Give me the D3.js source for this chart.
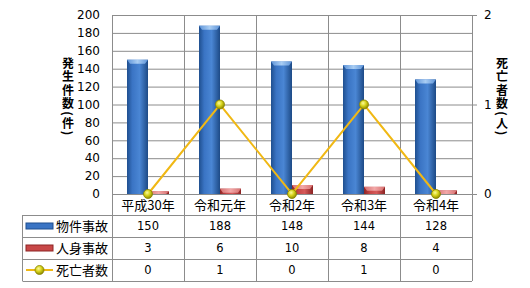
<!DOCTYPE html>
<html>
<head>
<meta charset="utf-8">
<script src="https://cdn.jsdelivr.net/npm/d3@7"></script>
<style>
  body { margin: 0; background: #fff; }
  text { font-family: "DejaVu Sans", sans-serif; }
  .jp { font-family: "Noto Sans CJK JP", sans-serif; }
</style>
</head>
<body>
<svg id="chart" width="530" height="288"></svg>
<script>
  // data
  var years = ['平成30年', '令和元年', '令和2年', '令和3年', '令和4年'];
  var bukken = [150, 188, 148, 144, 128];   // 物件事故
  var jinshin = [3, 6, 10, 8, 4];           // 人身事故
  var deaths = [0, 1, 0, 1, 0];             // 死亡者数
  var leftTicks = [0, 20, 40, 60, 80, 100, 120, 140, 160, 180, 200];
  var rightTicks = [0, 1, 2];
  var seriesNames = ['物件事故', '人身事故', '死亡者数'];
  var leftTitle = '発生件数(件)';
  var rightTitle = '死亡者数(人)';

  var svg = d3.select('#chart'),
      margin = {top: 15, left: 112, right: 58, bottom: 94},
      width = 530 - margin.left - margin.right,
      height = 288 - margin.top - margin.bottom,
      g = svg.append('g').attr('transform', 'translate(' + margin.left + ',' + margin.top + ')');

  var x = d3.scaleBand().domain(years).range([0, width]);
  var y = d3.scaleLinear().domain([0, 200]).range([height, 0]);
  var y2 = d3.scaleLinear().domain([0, 2]).range([height, 0]);
  var barW = 21;
  var grid = '#8c8c8c';

  // gradients for the bevelled bars
  var defs = svg.append('defs');
  function barGrad(id, stops) {
    var gr = defs.append('linearGradient').attr('id', id)
      .attr('x1', 0).attr('x2', 1).attr('y1', 0).attr('y2', 0);
    stops.forEach(function (s) {
      gr.append('stop').attr('offset', s[0]).attr('stop-color', s[1]);
    });
  }
  barGrad('blue', [[0, '#1f4f8f'], [0.25, '#3a74c4'], [0.6, '#4a86d4'], [1, '#1d4a86']]);
  barGrad('red', [[0, '#8e2424'], [0.3, '#c84848'], [0.6, '#d65a5a'], [1, '#8a2222']]);
  barGrad('blueTop', [[0, '#5d93d8'], [0.5, '#a9cdf3'], [1, '#5d93d8']]);
  barGrad('redTop', [[0, '#d77070'], [0.5, '#f2a8a8'], [1, '#d77070']]);
  var mk = defs.append('radialGradient').attr('id', 'marker')
    .attr('cx', 0.4).attr('cy', 0.35).attr('r', 0.65);
  mk.append('stop').attr('offset', 0).attr('stop-color', '#fbfb9a');
  mk.append('stop').attr('offset', 0.5).attr('stop-color', '#d6d21a');
  mk.append('stop').attr('offset', 1).attr('stop-color', '#8c8a00');

  // horizontal grid
  g.selectAll('.hgrid')
      .data(leftTicks)
    .enter().append('line')
      .attr('x1', 0).attr('x2', width)
      .attr('y1', function (d) { return y(d) + 0.5; })
      .attr('y2', function (d) { return y(d) + 0.5; })
      .attr('stroke', grid);

  // vertical grid, running through the table
  var tableTop = height;
  var rowH = 22;
  var headH = 21;
  var tableBottom = height + headH + rowH * 3;
  var vx = years.map(function (d) { return x(d); }).concat([width]);
  g.selectAll('.vgrid')
      .data(vx)
    .enter().append('line')
      .attr('x1', function (d) { return Math.round(d) + 0.5; })
      .attr('x2', function (d) { return Math.round(d) + 0.5; })
      .attr('y1', 0).attr('y2', tableBottom)
      .attr('stroke', grid);

  // right axis tick marks
  g.selectAll('.rtick')
      .data(rightTicks)
    .enter().append('line')
      .attr('x1', width).attr('x2', width + 5)
      .attr('y1', function (d) { return y2(d) + 0.5; })
      .attr('y2', function (d) { return y2(d) + 0.5; })
      .attr('stroke', grid);

  // left axis labels
  g.selectAll('.ylab')
      .data(leftTicks)
    .enter().append('text')
      .attr('x', -12).attr('y', function (d) { return y(d); })
      .attr('dy', '0.35em')
      .attr('text-anchor', 'end')
      .attr('font-size', 12)
      .text(function (d) { return d; });

  g.selectAll('.y2lab')
      .data(rightTicks)
    .enter().append('text')
      .attr('x', width + 12).attr('y', function (d) { return y2(d); })
      .attr('dy', '0.35em')
      .attr('font-size', 12)
      .text(function (d) { return d; });

  // bars
  function drawBars(vals, fill, top, side) {
    var bars = g.selectAll('.bar-' + fill)
        .data(vals)
      .enter().append('g');
    bars.append('rect')
        .attr('x', function (d, i) { return x(years[i]) + x.bandwidth() / 2 + (side < 0 ? -barW : 0); })
        .attr('y', function (d) { return y(d); })
        .attr('width', barW)
        .attr('height', function (d) { return height - y(d); })
        .attr('fill', 'url(#' + fill + ')');
    bars.append('path')
        .attr('d', function (d, i) {
          var x0 = x(years[i]) + x.bandwidth() / 2 + (side < 0 ? -barW : 0);
          var y0 = y(d);
          var h = Math.min(4, height - y0);
          return 'M' + x0 + ',' + y0 + 'h' + barW + 'l-3,' + h + 'h' + (6 - barW) + 'z';
        })
        .attr('fill', 'url(#' + top + ')');
  }
  drawBars(bukken, 'blue', 'blueTop', -1);
  drawBars(jinshin, 'red', 'redTop', 1);

  // deaths line
  var line = d3.line()
    .x(function (d, i) { return x(years[i]) + x.bandwidth() / 2; })
    .y(function (d) { return y2(d); });
  g.append('path')
      .attr('d', line(deaths))
      .attr('fill', 'none')
      .attr('stroke', '#f0b814')
      .attr('stroke-width', 2);
  g.selectAll('.dot')
      .data(deaths)
    .enter().append('circle')
      .attr('cx', function (d, i) { return x(years[i]) + x.bandwidth() / 2; })
      .attr('cy', function (d) { return y2(d); })
      .attr('r', 4.5)
      .attr('fill', 'url(#marker)')
      .attr('stroke', '#8a8400')
      .attr('stroke-width', 0.8);

  // axis titles (vertical text)
  function verticalTitle(str, cx) {
    svg.append('text')
        .attr('class', 'jp')
        .attr('x', cx).attr('y', 97)
        .attr('text-anchor', 'middle')
        .style('writing-mode', 'vertical-rl')
        .style('letter-spacing', '1.5px')
        .attr('font-size', 12).attr('font-weight', 'bold')
        .text(str);
  }
  verticalTitle(leftTitle, 68);
  verticalTitle(rightTitle, 502);

  // data table
  var tableLeft = 22.5 - margin.left;
  var rowYs = [0, 1, 2, 3].map(function (i) { return tableTop + headH + i * rowH; });
  g.selectAll('.trow')
      .data(rowYs)
    .enter().append('line')
      .attr('x1', tableLeft).attr('x2', width)
      .attr('y1', function (d) { return d + 0.5; })
      .attr('y2', function (d) { return d + 0.5; })
      .attr('stroke', grid);
  g.append('line')
      .attr('x1', tableLeft).attr('x2', tableLeft)
      .attr('y1', rowYs[0]).attr('y2', rowYs[3])
      .attr('stroke', grid);

  g.selectAll('.cat')
      .data(years)
    .enter().append('text')
      .attr('class', 'jp')
      .attr('x', function (d) { return x(d) + x.bandwidth() / 2; })
      .attr('y', tableTop + headH / 2 + 1)
      .attr('dy', '0.35em')
      .attr('text-anchor', 'middle')
      .attr('font-size', 13)
      .text(function (d) { return d; });

  [bukken, jinshin, deaths].forEach(function (vals, r) {
    g.selectAll('.cell' + r)
        .data(vals)
      .enter().append('text')
        .attr('x', function (d, i) { return x(years[i]) + x.bandwidth() / 2; })
        .attr('y', rowYs[r] + rowH / 2)
        .attr('dy', '0.35em')
        .attr('text-anchor', 'middle')
        .attr('font-size', 11.5)
        .text(function (d) { return d; });

    g.append('text')
        .attr('class', 'jp')
        .attr('x', 56 - margin.left)
        .attr('y', rowYs[r] + rowH / 2)
        .attr('dy', '0.35em')
        .attr('font-size', 13)
        .text(seriesNames[r]);
  });

  // legend keys
  var keyX = 26 - margin.left, keyW = 27;
  g.append('rect')
      .attr('x', keyX).attr('y', rowYs[0] + rowH / 2 - 3)
      .attr('width', keyW).attr('height', 6)
      .attr('fill', '#3a74c4').attr('stroke', '#1f4f8f');
  g.append('rect')
      .attr('x', keyX).attr('y', rowYs[1] + rowH / 2 - 3)
      .attr('width', keyW).attr('height', 6)
      .attr('fill', '#c84848').attr('stroke', '#8e2424');
  g.append('line')
      .attr('x1', keyX).attr('x2', keyX + keyW)
      .attr('y1', rowYs[2] + rowH / 2).attr('y2', rowYs[2] + rowH / 2)
      .attr('stroke', '#f0b814').attr('stroke-width', 2);
  g.append('circle')
      .attr('cx', keyX + keyW / 2).attr('cy', rowYs[2] + rowH / 2)
      .attr('r', 4.5)
      .attr('fill', 'url(#marker)')
      .attr('stroke', '#8a8400').attr('stroke-width', 0.8);
</script>
</body>
</html>
